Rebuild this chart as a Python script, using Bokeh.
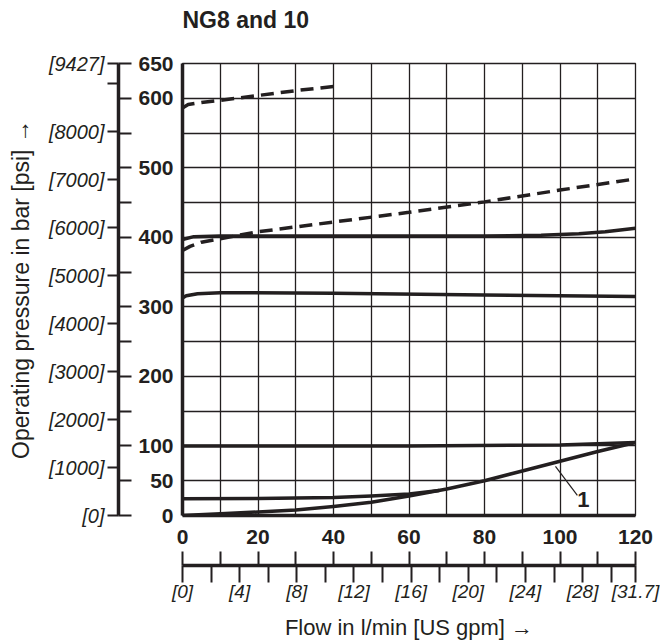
from bokeh.plotting import figure
from bokeh.models import LinearAxis, FixedTicker, Range1d, Label
from bokeh.embed import file_html
from bokeh.resources import INLINE

# ---------------- data ----------------
flow_ticks = [0, 20, 40, 60, 80, 100, 120]
flow_grid = list(range(0, 121, 10))
bar_labels = [0, 50, 100, 200, 300, 400, 500, 600, 650]
bar_grid = list(range(0, 651, 50))

psi_values = [0, 1000, 2000, 3000, 4000, 5000, 6000, 7000, 8000, 9000, 9427]
psi_text = ["[0]", "[1000]", "[2000]", "[3000]", "[4000]", "[5000]", "[6000]",
            "[7000]", "[8000]", "", "[9427]"]
gpm_values = [0, 2, 4, 6, 8, 10, 12, 14, 16, 18, 20, 22, 24, 26, 28, 30, 31.7]
gpm_text = ["[0]", "", "[4]", "", "[8]", "", "[12]", "", "[16]", "", "[20]", "",
            "[24]", "", "[28]", "", "[31.7]"]

# dashed curves
flow_dash_hi = [0, 1.5, 5, 10, 20, 30, 40]
pres_dash_hi = [586, 591, 594, 597, 604, 611, 617]
flow_dash_lo = [0, 2, 5, 10, 20, 30, 40, 60, 80, 100, 120]
pres_dash_lo = [381, 387, 393, 398, 408, 415, 422, 436, 451, 468, 484]
# solid curves
flow_400 = [0, 3, 10, 40, 80, 95, 105, 112, 120]
pres_400 = [397, 401, 402, 402, 402, 403, 405, 408, 413]
flow_315 = [0, 1, 4, 10, 40, 80, 120]
pres_315 = [313, 316, 319, 320.5, 319.5, 317, 315]
flow_100 = [0, 60, 100, 120]
pres_100 = [100, 100, 101.5, 105]
flow_25 = [0, 20, 40, 50, 60, 68]
pres_25 = [24, 24.5, 26, 28, 31, 36]
flow_c1 = [0, 10, 20, 30, 40, 50, 60, 70, 80, 90, 100, 110, 120]
pres_c1 = [0, 2.5, 5, 8, 13, 19, 28, 38, 50, 64, 78, 92, 105]
# callout "1"
callout_flow = [98.8, 104.6]
callout_pres = [70.5, 28.8]
callout_text = "1"

title_text = "NG8 and 10"
y_title = "Operating pressure in bar [psi] \u2192"
x_title = "Flow in l/min [US gpm] \u2192"

# ---------------- layout constants ----------------
INK = "#231f20"
FONT = "Liberation Sans"
PSI_PER_BAR = 14.5038
LPM_PER_GPM = 3.78541
TITLE_CENTER = 16.75     # flow units: centre of the left-aligned heading text

p = figure(width=660, height=644, x_range=Range1d(0, 120), y_range=Range1d(0, 650),
           output_backend="svg", toolbar_location=None,
           min_border_left=182, min_border_right=25, min_border_top=63, min_border_bottom=129,
           background_fill_color="white", border_fill_color="white")
p.outline_line_color = INK
p.outline_line_width = 1.3

# grid
p.xgrid.ticker = FixedTicker(ticks=flow_grid)
p.ygrid.ticker = FixedTicker(ticks=bar_grid)
for g in (p.xgrid[0], p.ygrid[0]):
    g.grid_line_color = INK
    g.grid_line_width = 1.3
    g.grid_line_alpha = 1.0


def style_plain(ax, ticks, standoff):
    ax.ticker = FixedTicker(ticks=ticks)
    ax.axis_line_color = INK
    ax.axis_line_width = 3.5
    ax.major_tick_line_color = None
    ax.minor_tick_line_color = None
    ax.major_tick_in = 0
    ax.major_tick_out = 0
    ax.major_label_standoff = standoff
    ax.major_label_text_font = FONT
    ax.major_label_text_font_style = "bold"
    ax.major_label_text_font_size = "21px"
    ax.major_label_text_color = INK


style_plain(p.yaxis[0], bar_labels, 9)
style_plain(p.xaxis[0], flow_ticks, 14)


def spacer(size, at):
    # invisible single white tick, only used to open a gap between two axes
    return LinearAxis(ticker=FixedTicker(ticks=[at]), major_label_overrides={at: ""},
                      axis_line_color=None, major_tick_line_color="white",
                      major_tick_out=size, major_tick_in=0, major_label_standoff=0,
                      minor_tick_line_color=None)


def secondary(tick_pos, tick_text, minor, out_len, in_len, size, standoff,
              label, label_size, label_standoff):
    return LinearAxis(ticker=FixedTicker(ticks=tick_pos, minor_ticks=minor),
                      major_label_overrides={k: t for k, t in zip(tick_pos, tick_text)},
                      axis_line_color=INK, axis_line_width=3.5,
                      major_tick_in=0, major_tick_out=out_len,
                      major_tick_line_color=INK, major_tick_line_width=2,
                      minor_tick_in=in_len, minor_tick_out=0,
                      minor_tick_line_color=INK, minor_tick_line_width=2,
                      major_label_standoff=standoff,
                      major_label_text_font=FONT, major_label_text_font_style="italic",
                      major_label_text_font_size=size, major_label_text_color=INK,
                      axis_label=label, axis_label_standoff=label_standoff,
                      axis_label_text_font=FONT, axis_label_text_font_style="normal",
                      axis_label_text_font_size=label_size, axis_label_text_color=INK)


psi_pos = [v / PSI_PER_BAR for v in psi_values]
gpm_pos = [v * LPM_PER_GPM for v in gpm_values]

p.add_layout(spacer(17, 625), "left")
p.add_layout(secondary(psi_pos, psi_text, bar_grid, 11, 13, "20px", 3,
                       y_title, "23px", 12), "left")
p.add_layout(spacer(19, 5), "below")
p.add_layout(secondary(gpm_pos, gpm_text, flow_grid, 17, 14, "19px", -2,
                       x_title, "22px", 10), "below")

# chart heading, set above the frame, left-aligned with it
head = LinearAxis(ticker=FixedTicker(ticks=[TITLE_CENTER]),
                  major_label_overrides={TITLE_CENTER: title_text},
                  axis_line_color=None, major_tick_line_color=None,
                  minor_tick_line_color=None, major_tick_in=0, major_tick_out=0,
                  major_label_standoff=31, major_label_text_font=FONT,
                  major_label_text_font_style="bold", major_label_text_font_size="23px",
                  major_label_text_color=INK)
p.add_layout(head, "above")

# curves
p.line(flow_dash_hi, pres_dash_hi, line_width=3.5, color=INK, line_dash="13 7")
p.line(flow_dash_lo, pres_dash_lo, line_width=3.5, color=INK, line_dash="13 7")
for fx, py in ((flow_400, pres_400), (flow_315, pres_315), (flow_100, pres_100),
               (flow_25, pres_25), (flow_c1, pres_c1)):
    p.line(fx, py, line_width=3.5, color=INK, line_join="round")

p.line(callout_flow, callout_pres, line_width=1.2, color=INK)
p.add_layout(Label(x=callout_flow[1] + 1.6, y=callout_pres[1] - 6, text=callout_text,
                   text_font=FONT, text_font_style="bold", text_font_size="22px",
                   text_color=INK, text_align="center", text_baseline="middle"))

open("out.html", "w").write(file_html(p, INLINE))
